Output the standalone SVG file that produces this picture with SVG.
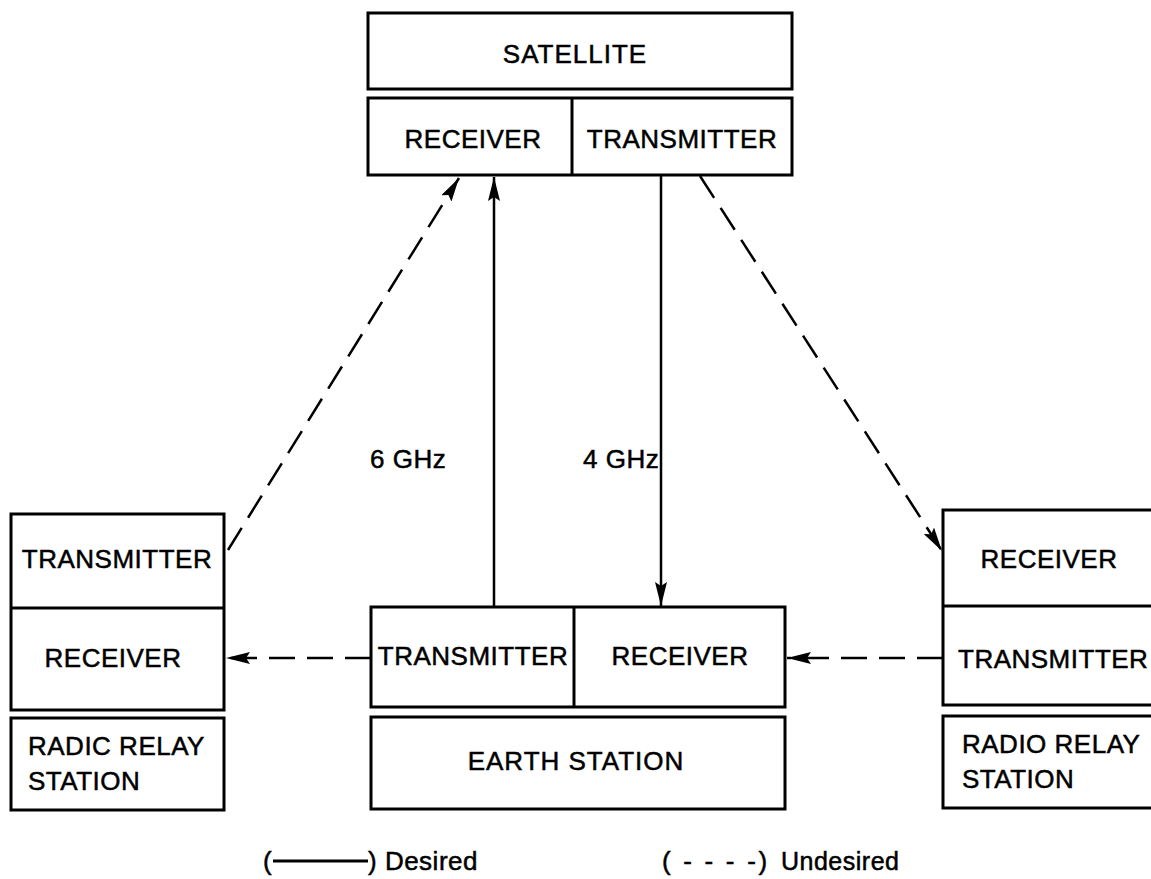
<svg xmlns="http://www.w3.org/2000/svg" width="1151" height="879" viewBox="0 0 1151 879">
<defs>
<style>
.box{fill:#fff;stroke:#000;stroke-width:3}
.t{font-family:"Liberation Sans",Arial,sans-serif;font-size:26px;fill:#000;stroke:#000;stroke-width:0.5;letter-spacing:0.5px}
.c{text-anchor:middle}
.solid{stroke:#000;stroke-width:2.5;fill:none}
.dash{stroke:#000;stroke-width:2.5;fill:none;stroke-dasharray:26 12}
</style>
<marker id="ah" viewBox="0 0 24 12" refX="24" refY="6" markerWidth="24" markerHeight="12" markerUnits="userSpaceOnUse" orient="auto">
<path d="M0,0 L24,6 L0,12 L4,6 z" fill="#000"/>
</marker>
</defs>
<rect width="1151" height="879" fill="#fff"/>

<g id="satellite">
<rect class="box" x="368" y="13" width="424" height="76"/>
<text class="t c" x="575" y="63" style="letter-spacing:1px">SATELLITE</text>
<rect class="box" x="368" y="98" width="424" height="77"/>
<line x1="572" y1="98" x2="572" y2="175" stroke="#000" stroke-width="3"/>
<text class="t c" x="473" y="148">RECEIVER</text>
<text class="t c" x="682" y="148">TRANSMITTER</text>
</g>

<g id="left-station">
<rect class="box" x="11" y="514" width="213" height="196"/>
<line x1="11" y1="608" x2="224" y2="608" stroke="#000" stroke-width="3"/>
<text class="t c" x="117" y="568">TRANSMITTER</text>
<text class="t c" x="113" y="667">RECEIVER</text>
<rect class="box" x="11" y="718" width="213" height="92"/>
<text class="t" x="28" y="755">RADIC RELAY</text>
<text class="t" x="28" y="790">STATION</text>
</g>

<g id="earth-station">
<rect class="box" x="371" y="607" width="414" height="100"/>
<line x1="574" y1="607" x2="574" y2="707" stroke="#000" stroke-width="3"/>
<text class="t c" x="473" y="665">TRANSMITTER</text>
<text class="t c" x="680" y="665">RECEIVER</text>
<rect class="box" x="371" y="717" width="414" height="92"/>
<text class="t c" x="576" y="770" style="letter-spacing:1px">EARTH STATION</text>
</g>

<g id="right-station">
<rect class="box" x="943" y="510" width="230" height="195"/>
<line x1="943" y1="606" x2="1173" y2="606" stroke="#000" stroke-width="3"/>
<text class="t c" x="1049" y="568">RECEIVER</text>
<text class="t" x="958" y="668">TRANSMITTER</text>
<rect class="box" x="943" y="716" width="230" height="92"/>
<text class="t" x="962" y="753">RADIO RELAY</text>
<text class="t" x="962" y="788">STATION</text>
</g>

<g id="connectors">
<line class="solid" x1="494" y1="607" x2="494" y2="177" marker-end="url(#ah)"/>
<line class="solid" x1="661" y1="175" x2="661" y2="606" marker-end="url(#ah)"/>
<line class="dash" x1="228" y1="550" x2="459" y2="178" marker-end="url(#ah)"/>
<line class="dash" x1="700" y1="176" x2="942" y2="551" marker-end="url(#ah)"/>
<line class="dash" x1="371" y1="658" x2="226" y2="658" marker-end="url(#ah)"/>
<line class="dash" x1="943" y1="658" x2="787" y2="658" marker-end="url(#ah)"/>
</g>

<g id="labels">
<text class="t" x="370" y="468">6 GHz</text>
<text class="t" x="583" y="468">4 GHz</text>
</g>

<g id="legend">
<text class="t" x="263" y="870">(</text>
<line x1="273" y1="861" x2="368" y2="861" stroke="#000" stroke-width="3"/>
<text class="t" x="368" y="870">) Desired</text>
<text class="t" x="662" y="870" style="letter-spacing:2.7px">( - - - -)</text>
<text class="t" x="781" y="870" style="font-size:25px">Undesired</text>
</g>
</svg>
